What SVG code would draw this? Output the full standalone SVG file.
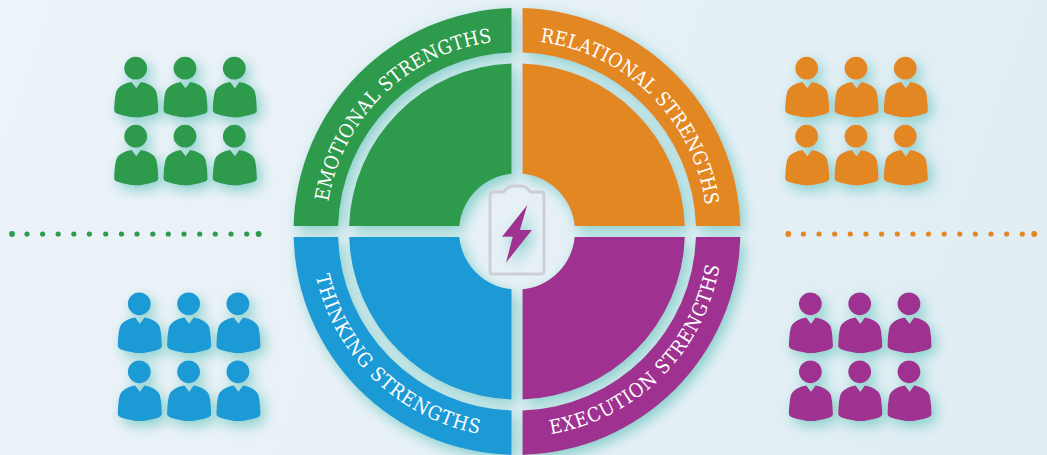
<svg xmlns="http://www.w3.org/2000/svg" width="1047" height="455" viewBox="0 0 1047 455">
<style>
.green{fill:#2e9a4b}.orange{fill:#e38724}.blue{fill:#1b9ad6}.purple{fill:#9f3291}
.label{font-family:"DejaVu Serif","Liberation Serif",serif;font-stretch:condensed;font-size:19.5px;fill:#fff}
.sh{filter:url(#shadow)}
</style>
<defs>
<linearGradient id="bg" x1="0" y1="0" x2="1" y2="0.15">
<stop offset="0" stop-color="#ecf3f9"/><stop offset=".3" stop-color="#eaf2f7"/><stop offset=".75" stop-color="#e4f0f6"/><stop offset="1" stop-color="#e1eef4"/>
</linearGradient>
<filter id="shadow" x="-30%" y="-30%" width="170%" height="170%">
<feDropShadow dx="4" dy="5" stdDeviation="7" flood-color="#6ec6c0" flood-opacity=".8"/>
</filter>
<g id="person">
<circle cx="0" cy="0" r="11.4"/>
<path d="M-4.1 13.8L0.6 20L5.1 13.8C11.5 14.8 18 17.6 20.4 23C22 28 22.4 37 22.6 42C22.6 44 21.2 45 19.5 45.6C13 47.5 5.5 49.3 0.6 49.3C-4.5 49.3-12 47.5-18.3 45.6C-20 45-21.5 44-21.5 42C-21.3 37-21 28-19.3 23C-17 17.6-10.5 14.8-4.1 13.8Z"/>
</g>
<g id="people">
<use href="#person" x="0" y="0"/><use href="#person" x="49.3" y="0"/><use href="#person" x="98.6" y="0"/>
<use href="#person" x="0" y="68"/><use href="#person" x="49.3" y="68"/><use href="#person" x="98.6" y="68"/>
</g>
<path id="arcE" d="M328.4 201.7A191 191 0 0 1 492.3 42"/>
<path id="arcR" d="M540 41.9A191 191 0 0 1 705.5 205"/>
<path id="arcT" d="M315.9 276.1A206 206 0 0 0 478.4 433.8"/>
<path id="arcX" d="M550.9 434.1A205.5 205.5 0 0 0 719.6 265.4"/>
</defs>
<rect width="1047" height="455" fill="url(#bg)"/>
<g id="connectors">
<g id="dots-left" class="green">
<circle cx="12" cy="234" r="2.9"/><circle cx="27" cy="234" r="2.6"/><circle cx="42.6" cy="234" r="2.6"/><circle cx="58.2" cy="234" r="2.6"/><circle cx="73.8" cy="234" r="2.6"/><circle cx="89.4" cy="234" r="2.6"/><circle cx="105.7" cy="234" r="2.6"/><circle cx="121.5" cy="234" r="2.6"/><circle cx="137" cy="234" r="2.6"/><circle cx="152.8" cy="234" r="2.6"/><circle cx="168.3" cy="234" r="2.6"/><circle cx="184" cy="234" r="2.6"/><circle cx="199.7" cy="234" r="2.6"/><circle cx="215.3" cy="234" r="2.6"/><circle cx="231" cy="234" r="2.6"/><circle cx="246.7" cy="234" r="2.6"/><circle cx="258.6" cy="234" r="2.9"/>
</g>
<g id="dots-right" class="orange">
<circle cx="788.3" cy="234" r="2.9"/><circle cx="803.4" cy="234" r="2.6"/><circle cx="819" cy="234" r="2.6"/><circle cx="834.7" cy="234" r="2.6"/><circle cx="850.3" cy="234" r="2.6"/><circle cx="866" cy="234" r="2.6"/><circle cx="881.6" cy="234" r="2.6"/><circle cx="897.3" cy="234" r="2.6"/><circle cx="912.9" cy="234" r="2.6"/><circle cx="928.5" cy="234" r="2.6"/><circle cx="944.2" cy="234" r="2.6"/><circle cx="959.8" cy="234" r="2.6"/><circle cx="975.4" cy="234" r="2.6"/><circle cx="991" cy="234" r="2.6"/><circle cx="1006.7" cy="234" r="2.6"/><circle cx="1022.3" cy="234" r="2.6"/><circle cx="1034.2" cy="234" r="2.9"/>
</g>
</g>
<g id="people-emotional" class="green sh"><use href="#people" x="135.7" y="68.2"/></g>
<g id="people-relational" class="orange sh"><use href="#people" x="806.7" y="68.2"/></g>
<g id="people-thinking" class="blue sh"><use href="#people" x="139.3" y="303.8"/></g>
<g id="people-execution" class="purple sh"><use href="#people" x="810.4" y="303.8"/></g>
<g id="wheel" class="sh">
<g id="emotional" class="green">
<path d="M293.6 226A223.5 223.5 0 0 1 511.5 8.1V52.6A179 179 0 0 0 338.1 226Z"/>
<path d="M349.1 226A168 168 0 0 1 511.5 63.6V173.8A58 58 0 0 0 459.3 226Z"/>
</g>
<g id="relational" class="orange">
<path d="M740.4 226A223.5 223.5 0 0 0 522.5 8.1V52.6A179 179 0 0 1 695.9 226Z"/>
<path d="M684.9 226A168 168 0 0 0 522.5 63.6V173.8A58 58 0 0 1 574.7 226Z"/>
</g>
<g id="thinking" class="blue">
<path d="M293.6 237A223.5 223.5 0 0 0 511.5 454.9V410.4A179 179 0 0 1 338.1 237Z"/>
<path d="M349.1 237A168 168 0 0 0 511.5 399.4V289.2A58 58 0 0 1 459.3 237Z"/>
</g>
<g id="execution" class="purple">
<path d="M740.4 237A223.5 223.5 0 0 1 522.5 454.9V410.4A179 179 0 0 0 695.9 237Z"/>
<path d="M684.9 237A168 168 0 0 1 522.5 399.4V289.2A58 58 0 0 0 574.7 237Z"/>
</g>
</g>
<g id="labels">
<text class="label"><textPath href="#arcE" textLength="245" lengthAdjust="spacing">EMOTIONAL STRENGTHS</textPath></text>
<text class="label"><textPath href="#arcR" textLength="250" lengthAdjust="spacing">RELATIONAL STRENGTHS</textPath></text>
<text class="label"><textPath href="#arcT" textLength="240" lengthAdjust="spacing">THINKING STRENGTHS</textPath></text>
<text class="label"><textPath href="#arcX" textLength="254" lengthAdjust="spacing">EXECUTION STRENGTHS</textPath></text>
</g>
<g id="battery">
<path d="M493 192H503.5C506 188.5 509 186 513 186H521C525 186 528 188.5 530.5 192H541C543 192 544 193 544 195V271C544 273 543 274 541 274H493C491 274 490 273 490 271V195C490 193 491 192 493 192Z" fill="none" stroke="#cfced5" stroke-width="3"/>
<path class="purple sh" d="M527.3 205L502 236.7H512.7L506 262.7L532 230H520Z"/>
</g>
</svg>
